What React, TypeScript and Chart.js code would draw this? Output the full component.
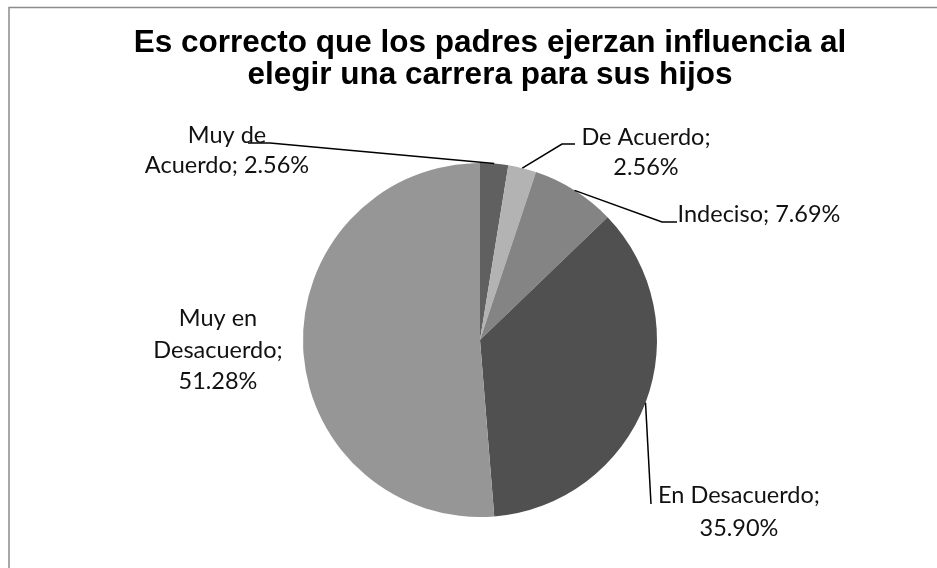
import { useEffect, useRef } from 'react';
import { Chart, registerables } from 'chart.js';

Chart.register(...registerables);

const categories = ['Muy de Acuerdo', 'De Acuerdo', 'Indeciso', 'En Desacuerdo', 'Muy en Desacuerdo'];
const percentages = [2.56, 2.56, 7.69, 35.9, 51.28];
const sliceColors = ['#606060', '#b3b3b3', '#848484', '#505050', '#969696'];
const titleLines = ['Es correcto que los padres ejerzan influencia al', 'elegir una carrera para sus hijos'];
// word indices after which a label breaks onto a new line
const labelBreaks = [[2], [2], [], [2], [2, 3]];

// label layout: offsets from the pie centre
const labelLayout = [
  { dx: -253, dy: -197, lh: 30, leader: [[-210, -197], [-232, -197]] },
  { dx: 166, dy: -195, lh: 30, leader: [[82, -196], [95, -196]] },
  { dx: 279, dy: -118, lh: 30, leader: [[182, -118], [197, -118]] },
  { dx: 259, dy: 163, lh: 33, leader: [[171, 164]] },
  { dx: -262, dy: -14, lh: 31.5, leader: [] },
];

function labelLines(i: number): string[] {
  const words = `${categories[i]}; ${percentages[i].toFixed(2)}%`.split(' ');
  const out: string[] = [];
  let cur: string[] = [];
  words.forEach((w, k) => {
    cur.push(w);
    if (labelBreaks[i].includes(k + 1)) {
      out.push(cur.join(' '));
      cur = [];
    }
  });
  if (cur.length) out.push(cur.join(' '));
  return out;
}

const decorPlugin = {
  id: 'decor',
  afterDraw(chart: any) {
    const ctx = chart.ctx as CanvasRenderingContext2D;
    ctx.save();
    // frame
    ctx.strokeStyle = '#8c8c8c';
    ctx.lineWidth = 1.5;
    ctx.beginPath();
    ctx.moveTo(9, 568);
    ctx.lineTo(9, 7.5);
    ctx.lineTo(937, 7.5);
    ctx.stroke();

    // title
    ctx.fillStyle = '#000';
    ctx.font = 'bold 31.5px "Liberation Sans", Arial, sans-serif';
    ctx.textAlign = 'center';
    ctx.textBaseline = 'alphabetic';
    ctx.fillText(titleLines[0], 490, 52);
    ctx.fillText(titleLines[1], 490, 83.5);

    // labels + leaders
    const meta = chart.getDatasetMeta(0);
    meta.data.forEach((arc: any, i: number) => {
      const p = arc.getProps(['x', 'y', 'startAngle', 'endAngle', 'outerRadius'], true);
      const mid = (p.startAngle + p.endAngle) / 2;
      const ax = p.x + Math.cos(mid) * p.outerRadius;
      const ay = p.y + Math.sin(mid) * p.outerRadius;
      const L = labelLayout[i];
      if (L.leader.length) {
        ctx.strokeStyle = '#000';
        ctx.lineWidth = 1.5;
        ctx.beginPath();
        ctx.moveTo(ax, ay);
        L.leader.forEach((pt) => ctx.lineTo(p.x + pt[0], p.y + pt[1]));
        ctx.stroke();
      }
      ctx.fillStyle = '#111';
      ctx.font = '23.5px Lato, "Open Sans", sans-serif';
      ctx.textAlign = 'center';
      ctx.textBaseline = 'alphabetic';
      labelLines(i).forEach((line, k) => {
        ctx.fillText(line, p.x + L.dx, p.y + L.dy + k * L.lh);
      });
    });
    ctx.restore();
  },
};

export default function App() {
  const ref = useRef<HTMLCanvasElement>(null);
  useEffect(() => {
    if (!ref.current) return;
    const chart = new Chart(ref.current, {
      type: 'pie',
      data: {
        labels: categories,
        datasets: [
          {
            data: percentages,
            backgroundColor: sliceColors,
            borderWidth: 0,
          },
        ],
      },
      options: {
        responsive: false,
        animation: false,
        devicePixelRatio: 1,
        layout: { padding: { left: 303, right: 280, top: 163, bottom: 51 } },
        plugins: {
          legend: { display: false },
          tooltip: { enabled: false },
          title: { display: false },
        },
      },
      plugins: [decorPlugin],
    });
    return () => chart.destroy();
  }, []);
  return (
    <div style={{ position: 'absolute', left: 0, top: 0, width: 937, height: 568, background: '#fff' }}>
      <canvas ref={ref} width={937} height={568} style={{ display: 'block' }} />
    </div>
  );
}
